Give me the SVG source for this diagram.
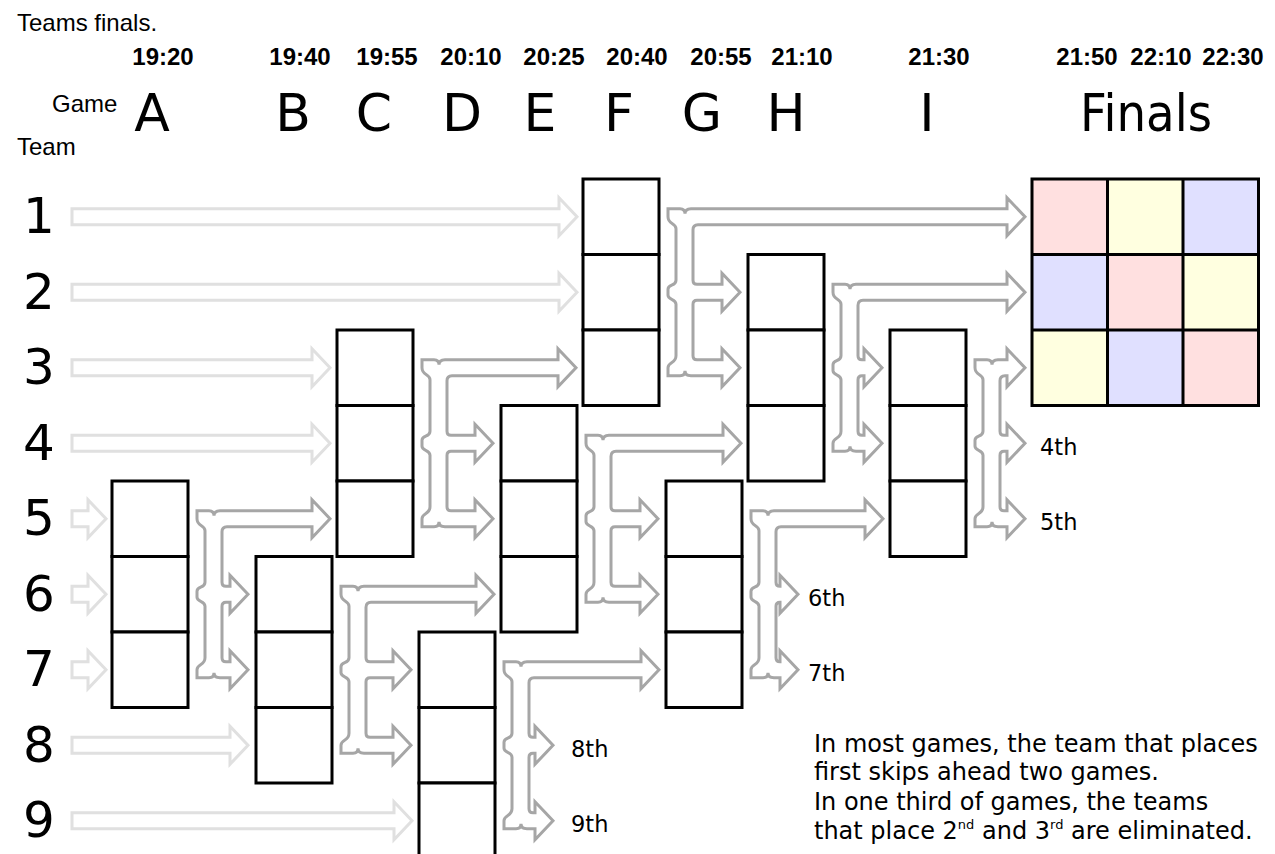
<svg xmlns="http://www.w3.org/2000/svg" width="1275" height="854" viewBox="0 0 1275 854">
<style>
.box{fill:#fff;stroke:#000;stroke-width:3}
.in{fill:#fff;stroke:#e0e0e0;stroke-width:3;stroke-linejoin:miter}
.br{fill:#fff;stroke:#a6a6a6;stroke-width:3;stroke-linejoin:miter}
.big{font-family:"DejaVu Sans",Verdana,sans-serif;font-size:52px;text-anchor:middle;fill:#000}
.num{font-family:"DejaVu Sans",Verdana,sans-serif;font-size:50px;text-anchor:middle;fill:#000}
.time{font-family:"Liberation Sans",Arial,sans-serif;font-weight:bold;font-size:24px;text-anchor:middle;fill:#000}
.lab{font-family:"Liberation Sans",Arial,sans-serif;font-size:24px;fill:#000}
.pl{font-family:"DejaVu Sans",Verdana,sans-serif;font-size:22.5px;fill:#000}
.note{font-family:"DejaVu Sans",Verdana,sans-serif;font-size:24px;fill:#000}
.pk{fill:#ffe0e0}.yl{fill:#ffffe0}.bl{fill:#e0e0ff}
</style>
<rect width="1275" height="854" fill="#fff"/>

<g id="header">
<text class="lab" x="17" y="31">Teams finals.</text>
<text class="lab" x="52" y="112">Game</text>
<text class="lab" x="17" y="155">Team</text>
<text class="time" x="163" y="65">19:20</text>
<text class="time" x="300" y="65">19:40</text>
<text class="time" x="387" y="65">19:55</text>
<text class="time" x="471" y="65">20:10</text>
<text class="time" x="554" y="65">20:25</text>
<text class="time" x="637" y="65">20:40</text>
<text class="time" x="721" y="65">20:55</text>
<text class="time" x="802" y="65">21:10</text>
<text class="time" x="939" y="65">21:30</text>
<text class="time" x="1087" y="65">21:50</text>
<text class="time" x="1161" y="65">22:10</text>
<text class="time" x="1233" y="65">22:30</text>
<text class="big" x="152" y="131">A</text>
<text class="big" x="293" y="131">B</text>
<text class="big" x="374" y="131">C</text>
<text class="big" x="462" y="131">D</text>
<text class="big" x="540" y="131">E</text>
<text class="big" x="619" y="131">F</text>
<text class="big" x="702" y="131">G</text>
<text class="big" x="786" y="131">H</text>
<text class="big" x="927" y="131">I</text>
<text class="big" x="1146" y="131" textLength="132" lengthAdjust="spacingAndGlyphs">Finals</text>
</g>

<g id="teams">
<text class="num" x="39" y="233">1</text>
<text class="num" x="39" y="309">2</text>
<text class="num" x="39" y="384">3</text>
<text class="num" x="39" y="460">4</text>
<text class="num" x="39" y="535">5</text>
<text class="num" x="39" y="611">6</text>
<text class="num" x="39" y="686">7</text>
<text class="num" x="39" y="762">8</text>
<text class="num" x="39" y="837">9</text>
</g>

<g id="connectors">
<path class="in" d="M72,208.75 H559 v-11 l18,19 l-18,19 v-11 H72 z"/>
<path class="in" d="M72,284.25 H559 v-11 l18,19 l-18,19 v-11 H72 z"/>
<path class="in" d="M72,359.75 H312 v-11 l18,19 l-18,19 v-11 H72 z"/>
<path class="in" d="M72,435.25 H312 v-11 l18,19 l-18,19 v-11 H72 z"/>
<path class="in" d="M72,510.75 H88 v-11 l18,19 l-18,19 v-11 H72 z"/>
<path class="in" d="M72,586.25 H88 v-11 l18,19 l-18,19 v-11 H72 z"/>
<path class="in" d="M72,661.75 H88 v-11 l18,19 l-18,19 v-11 H72 z"/>
<path class="in" d="M72,737.25 H230 v-11 l18,19 l-18,19 v-11 H72 z"/>
<path class="in" d="M72,812.75 H394 v-11 l18,19 l-18,19 v-11 H72 z"/>

<path id="brA" class="br" d="M197,510.75 h12 q5,0 5,5 q0,-5 6,-5 H312 v-11 l18,19 l-18,19 v-11 H227 q-5,0 -5,5 v50.5 q0,4 4,4 H230 v-11 l18,19 l-18,19 v-11 H226 q-4,0 -4,4 v51.5 q0,4 4,4 H230 v-11 l18,19 l-18,19 v-11 H220 q-6,0 -6,-5 q0,5 -5,5 H197 v-8 c0,-6 8,-4 8,-12 v-51.5 c0,-6 -8,-4 -8,-9 v-6 c0,-5 8,-3 8,-9 v-51.5 c0,-6 -8,-4 -8,-12 z"/>
<path id="brB" class="br" d="M341,586.25 h12 q5,0 5,5 q0,-5 6,-5 H476 v-11 l18,19 l-18,19 v-11 H371 q-5,0 -5,5 v50.5 q0,4 4,4 H393 v-11 l18,19 l-18,19 v-11 H370 q-4,0 -4,4 v51.5 q0,4 4,4 H393 v-11 l18,19 l-18,19 v-11 H364 q-6,0 -6,-5 q0,5 -5,5 H341 v-8 c0,-6 8,-4 8,-12 v-51.5 c0,-6 -8,-4 -8,-9 v-6 c0,-5 8,-3 8,-9 v-51.5 c0,-6 -8,-4 -8,-12 z"/>
<path id="brC" class="br" d="M422,359.75 h12 q5,0 5,5 q0,-5 6,-5 H558 v-11 l18,19 l-18,19 v-11 H452 q-5,0 -5,5 v50.5 q0,4 4,4 H475 v-11 l18,19 l-18,19 v-11 H451 q-4,0 -4,4 v51.5 q0,4 4,4 H475 v-11 l18,19 l-18,19 v-11 H445 q-6,0 -6,-5 q0,5 -5,5 H422 v-8 c0,-6 8,-4 8,-12 v-51.5 c0,-6 -8,-4 -8,-9 v-6 c0,-5 8,-3 8,-9 v-51.5 c0,-6 -8,-4 -8,-12 z"/>
<path id="brD" class="br" d="M504,661.75 h12 q5,0 5,5 q0,-5 6,-5 H641 v-11 l18,19 l-18,19 v-11 H534 q-5,0 -5,5 v50.5 q0,4 4,4 H535 v-11 l18,19 l-18,19 v-11 H533 q-4,0 -4,4 v51.5 q0,4 4,4 H535 v-11 l18,19 l-18,19 v-11 H527 q-6,0 -6,-5 q0,5 -5,5 H504 v-8 c0,-6 8,-4 8,-12 v-51.5 c0,-6 -8,-4 -8,-9 v-6 c0,-5 8,-3 8,-9 v-51.5 c0,-6 -8,-4 -8,-12 z"/>
<path id="brE" class="br" d="M586,435.25 h12 q5,0 5,5 q0,-5 6,-5 H723 v-11 l18,19 l-18,19 v-11 H616 q-5,0 -5,5 v50.5 q0,4 4,4 H640 v-11 l18,19 l-18,19 v-11 H615 q-4,0 -4,4 v51.5 q0,4 4,4 H640 v-11 l18,19 l-18,19 v-11 H609 q-6,0 -6,-5 q0,5 -5,5 H586 v-8 c0,-6 8,-4 8,-12 v-51.5 c0,-6 -8,-4 -8,-9 v-6 c0,-5 8,-3 8,-9 v-51.5 c0,-6 -8,-4 -8,-12 z"/>
<path id="brF" class="br" d="M668,208.75 h12 q5,0 5,5 q0,-5 6,-5 H1007 v-11 l18,19 l-18,19 v-11 H698 q-5,0 -5,5 v50.5 q0,4 4,4 H722 v-11 l18,19 l-18,19 v-11 H697 q-4,0 -4,4 v51.5 q0,4 4,4 H722 v-11 l18,19 l-18,19 v-11 H691 q-6,0 -6,-5 q0,5 -5,5 H668 v-8 c0,-6 8,-4 8,-12 v-51.5 c0,-6 -8,-4 -8,-9 v-6 c0,-5 8,-3 8,-9 v-51.5 c0,-6 -8,-4 -8,-12 z"/>
<path id="brG" class="br" d="M751,510.75 h12 q5,0 5,5 q0,-5 6,-5 H865 v-11 l18,19 l-18,19 v-11 H781 q-5,0 -5,5 v50.5 q0,4 4,4 H780 v-11 l18,19 l-18,19 v-11 H780 q-4,0 -4,4 v51.5 q0,4 4,4 H780 v-11 l18,19 l-18,19 v-11 H774 q-6,0 -6,-5 q0,5 -5,5 H751 v-8 c0,-6 8,-4 8,-12 v-51.5 c0,-6 -8,-4 -8,-9 v-6 c0,-5 8,-3 8,-9 v-51.5 c0,-6 -8,-4 -8,-12 z"/>
<path id="brH" class="br" d="M833,284.25 h12 q5,0 5,5 q0,-5 6,-5 H1007 v-11 l18,19 l-18,19 v-11 H863 q-5,0 -5,5 v50.5 q0,4 4,4 H864 v-11 l18,19 l-18,19 v-11 H862 q-4,0 -4,4 v51.5 q0,4 4,4 H864 v-11 l18,19 l-18,19 v-11 H856 q-6,0 -6,-5 q0,5 -5,5 H833 v-8 c0,-6 8,-4 8,-12 v-51.5 c0,-6 -8,-4 -8,-9 v-6 c0,-5 8,-3 8,-9 v-51.5 c0,-6 -8,-4 -8,-12 z"/>
<path id="brI" class="br" d="M975,359.75 h12 q5,0 5,5 q0,-5 6,-5 H1007 v-11 l18,19 l-18,19 v-11 H1005 q-5,0 -5,5 v50.5 q0,4 4,4 H1007 v-11 l18,19 l-18,19 v-11 H1004 q-4,0 -4,4 v51.5 q0,4 4,4 H1007 v-11 l18,19 l-18,19 v-11 H998 q-6,0 -6,-5 q0,5 -5,5 H975 v-8 c0,-6 8,-4 8,-12 v-51.5 c0,-6 -8,-4 -8,-9 v-6 c0,-5 8,-3 8,-9 v-51.5 c0,-6 -8,-4 -8,-12 z"/>
</g>

<g id="gameA"><rect class="box" x="112" y="481" width="76" height="75.5"/><rect class="box" x="112" y="556.5" width="76" height="75.5"/><rect class="box" x="112" y="632" width="76" height="75.5"/></g>
<g id="gameB"><rect class="box" x="256" y="556.5" width="76" height="75.5"/><rect class="box" x="256" y="632" width="76" height="75.5"/><rect class="box" x="256" y="707.5" width="76" height="75.5"/></g>
<g id="gameC"><rect class="box" x="337" y="330" width="76" height="75.5"/><rect class="box" x="337" y="405.5" width="76" height="75.5"/><rect class="box" x="337" y="481" width="76" height="75.5"/></g>
<g id="gameD"><rect class="box" x="419" y="632" width="76" height="75.5"/><rect class="box" x="419" y="707.5" width="76" height="75.5"/><rect class="box" x="419" y="783" width="76" height="75.5"/></g>
<g id="gameE"><rect class="box" x="501" y="405.5" width="76" height="75.5"/><rect class="box" x="501" y="481" width="76" height="75.5"/><rect class="box" x="501" y="556.5" width="76" height="75.5"/></g>
<g id="gameF"><rect class="box" x="583" y="179" width="76" height="75.5"/><rect class="box" x="583" y="254.5" width="76" height="75.5"/><rect class="box" x="583" y="330" width="76" height="75.5"/></g>
<g id="gameG"><rect class="box" x="666" y="481" width="76" height="75.5"/><rect class="box" x="666" y="556.5" width="76" height="75.5"/><rect class="box" x="666" y="632" width="76" height="75.5"/></g>
<g id="gameH"><rect class="box" x="748" y="254.5" width="76" height="75.5"/><rect class="box" x="748" y="330" width="76" height="75.5"/><rect class="box" x="748" y="405.5" width="76" height="75.5"/></g>
<g id="gameI"><rect class="box" x="890" y="330" width="76" height="75.5"/><rect class="box" x="890" y="405.5" width="76" height="75.5"/><rect class="box" x="890" y="481" width="76" height="75.5"/></g>

<g id="finals">
<rect class="pk" x="1032" y="179" width="75.5" height="75.5"/>
<rect class="yl" x="1107.5" y="179" width="75.5" height="75.5"/>
<rect class="bl" x="1183" y="179" width="75.5" height="75.5"/>
<rect class="bl" x="1032" y="254.5" width="75.5" height="75.5"/>
<rect class="pk" x="1107.5" y="254.5" width="75.5" height="75.5"/>
<rect class="yl" x="1183" y="254.5" width="75.5" height="75.5"/>
<rect class="yl" x="1032" y="330" width="75.5" height="75.5"/>
<rect class="bl" x="1107.5" y="330" width="75.5" height="75.5"/>
<rect class="pk" x="1183" y="330" width="75.5" height="75.5"/>
<g fill="none" stroke="#000" stroke-width="3">
<rect x="1032" y="179" width="226.5" height="226.5"/>
<path d="M1107.5,179 V405.5 M1183,179 V405.5 M1032,254.5 H1258.5 M1032,330 H1258.5"/>
</g>
</g>

<g id="places">
<text class="pl" x="1040" y="455">4th</text>
<text class="pl" x="1040" y="530">5th</text>
<text class="pl" x="808" y="606">6th</text>
<text class="pl" x="808" y="681">7th</text>
<text class="pl" x="571" y="757">8th</text>
<text class="pl" x="571" y="832">9th</text>
</g>

<g id="note">
<text class="note" x="814" y="752">In most games, the team that places</text>
<text class="note" x="814" y="780">first skips ahead two games.</text>
<text class="note" x="814" y="810">In one third of games, the teams</text>
<text class="note" x="814" y="839">that place 2<tspan font-size="13" dy="-10">nd</tspan><tspan dy="10"> and 3</tspan><tspan font-size="13" dy="-10">rd</tspan><tspan dy="10"> are eliminated.</tspan></text>
</g>
</svg>
